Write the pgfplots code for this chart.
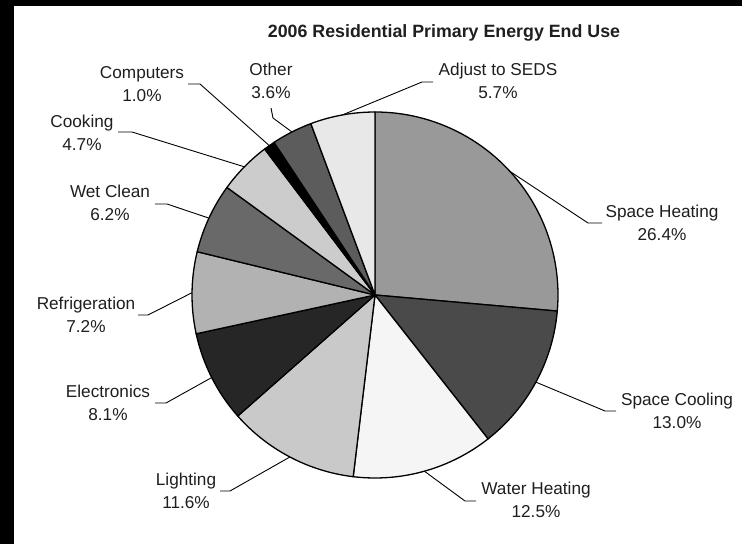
\documentclass[border=0pt]{standalone}
\usepackage{pgfplots}
\pgfplotsset{compat=1.18}
\usepackage{pgfplotstable}
\usepackage{fontspec}
\setmainfont{Liberation Sans}
\definecolor{labtext}{gray}{0.12}
\newcommand\labfont{\fontsize{17.2}{22.5}\selectfont}

\pgfplotstableread[col sep=comma]{
label,value,gray,kx,ky,ex,ey,tx,ty
Space Heating,26.4,0.60,588,223,602,223,662,223
Space Cooling,13.0,0.29,605,411,616,411,677,411
Water Heating,12.5,0.96,465,501,476,501,536,500
Lighting,11.6,0.79,230,491,220,491,186,491
Electronics,8.1,0.15,166,403,155,403,108,403
Refrigeration,7.2,0.70,148,315,138,315,86,315
Wet Clean,6.2,0.41,167,204,155,204,110,203
Cooking,4.7,0.80,132,132,118,132,82,133
Computers,1.0,0.00,200,84,188,84,142,84
Other,3.6,0.36,273,118,271,108,271,81
Adjust to SEDS,5.7,0.91,422,82,433,82,498,81
}\pietable

\def\piecum{90}
\pgfplotsforeachungrouped \i in {0,...,10}{%
  \pgfplotstablegetelem{\i}{value}\of\pietable
  \edef\pieval{\pgfplotsretval}%
  \pgfmathsetmacro\pieea{\piecum-3.6*\pieval}%
  \pgfmathsetmacro\piema{(\piecum+\pieea)/2}%
  \pgfmathsetmacro\piesx{375+183*cos(\piema)}%
  \pgfmathsetmacro\piesy{249+183*sin(\piema)}%
  \expandafter\xdef\csname sa\i\endcsname{\piecum}%
  \expandafter\xdef\csname ea\i\endcsname{\pieea}%
  \expandafter\xdef\csname sx\i\endcsname{\piesx}%
  \expandafter\xdef\csname sy\i\endcsname{\piesy}%
  \expandafter\xdef\csname pc\i\endcsname{\pieval}%
  \pgfplotstablegetelem{\i}{label}\of\pietable
  \expandafter\xdef\csname lb\i\endcsname{\pgfplotsretval}%
  \pgfplotstablegetelem{\i}{gray}\of\pietable
  \edef\piegray{\pgfplotsretval}%
  \definecolor{sh\i}{gray}{\piegray}%
  \pgfplotstablegetelem{\i}{kx}\of\pietable
  \expandafter\xdef\csname kx\i\endcsname{\pgfplotsretval}%
  \pgfplotstablegetelem{\i}{ky}\of\pietable
  \pgfmathsetmacro\pietmp{544-\pgfplotsretval}%
  \expandafter\xdef\csname ky\i\endcsname{\pietmp}%
  \pgfplotstablegetelem{\i}{ex}\of\pietable
  \expandafter\xdef\csname ex\i\endcsname{\pgfplotsretval}%
  \pgfplotstablegetelem{\i}{ey}\of\pietable
  \pgfmathsetmacro\pietmp{544-\pgfplotsretval}%
  \expandafter\xdef\csname ey\i\endcsname{\pietmp}%
  \pgfplotstablegetelem{\i}{tx}\of\pietable
  \expandafter\xdef\csname tx\i\endcsname{\pgfplotsretval}%
  \pgfplotstablegetelem{\i}{ty}\of\pietable
  \pgfmathsetmacro\pietmp{544-\pgfplotsretval}%
  \expandafter\xdef\csname ty\i\endcsname{\pietmp}%
  \xdef\piecum{\pieea}%
}

\begin{document}
\begin{tikzpicture}
\begin{axis}[x=1pt,y=1pt,xmin=0,xmax=742,ymin=0,ymax=544,hide axis,clip=false]
\fill[white] (axis cs:0,0) rectangle (axis cs:742,544);
\fill[black] (axis cs:0,0) rectangle (axis cs:14,544);
\fill[black] (axis cs:0,538) rectangle (axis cs:742,544);
\pgfplotsinvokeforeach{0,...,10}{%
 \edef\piecmd{\noexpand\filldraw[fill=sh#1,draw=black,line width=1.3pt,line join=round] (axis cs:375,249) -- ++(\csname sa#1\endcsname:183pt) arc[start angle=\csname sa#1\endcsname,end angle=\csname ea#1\endcsname,radius=183pt] -- cycle;}\piecmd
}
\pgfplotsinvokeforeach{0,...,10}{%
 \edef\piecmd{\noexpand\draw[line width=0.9pt,black] (axis cs:\csname sx#1\endcsname,\csname sy#1\endcsname) -- (axis cs:\csname kx#1\endcsname,\csname ky#1\endcsname) -- (axis cs:\csname ex#1\endcsname,\csname ey#1\endcsname);
 \noexpand\node[align=center,font=\noexpand\labfont,text=labtext,inner sep=0pt] at (axis cs:\csname tx#1\endcsname,\csname ty#1\endcsname) {\csname lb#1\endcsname\noexpand\\\csname pc#1\endcsname\noexpand\%};}\piecmd
}
\node[font=\bfseries\fontsize{17.8}{21}\selectfont,text=labtext] at (axis cs:444,511) {2006 Residential Primary Energy End Use};
\end{axis}
\end{tikzpicture}
\end{document}
